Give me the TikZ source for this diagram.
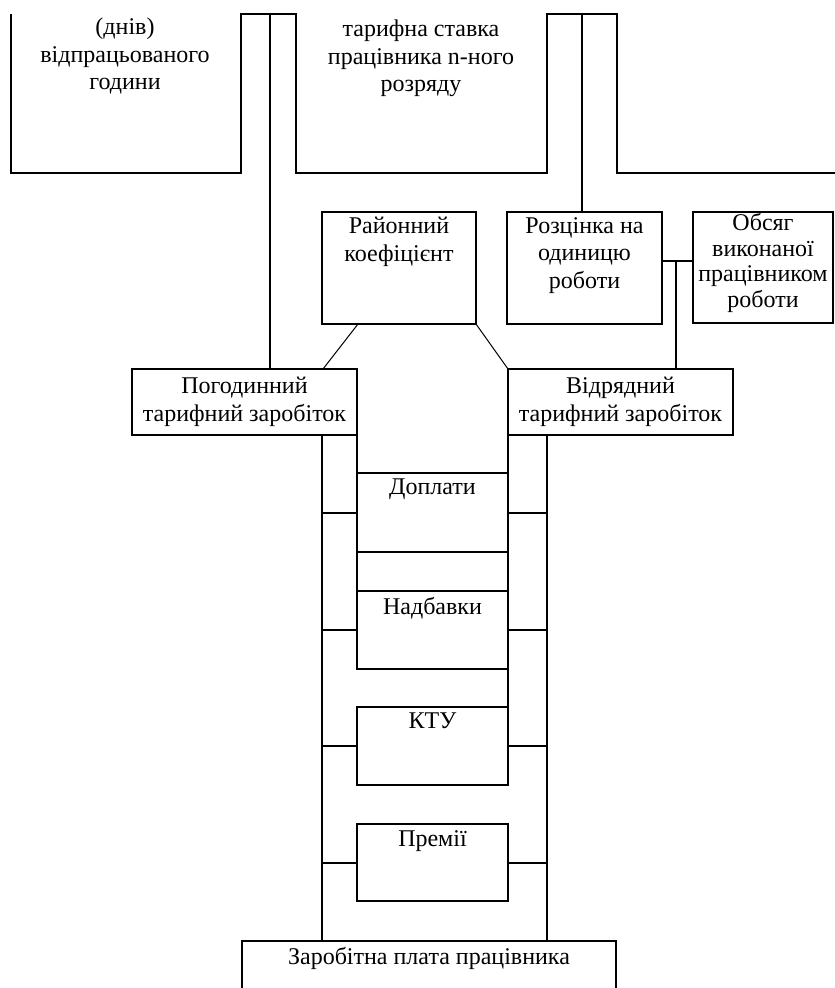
\documentclass[tikz,border=0pt]{standalone}
\usepackage{fontspec}
\setmainfont{Liberation Serif}
\usetikzlibrary{calc}
\begin{document}
\begin{tikzpicture}[x=1pt,y=-1pt,
  box/.style={draw, line width=2pt, anchor=north west, inner sep=0pt, outer sep=0pt},
  txt/.style={font=\fontsize{24}{27.5}\selectfont, align=center, inner sep=0pt},
  ctxt/.style={box, font=\fontsize{24}{28}\selectfont, align=center},
  ln/.style={line width=2pt},
  thinln/.style={line width=1pt}]
\useasboundingbox (0,0) rectangle (835,988);

% partially shown top boxes
\draw[ln] (11,14) -- (11,173) -- (241,173) -- (241,14) -- (296,14) -- (296,173)
  -- (547,173) -- (547,14) -- (617,14) -- (617,173) -- (836,173);
\coordinate (tA) at (270,14);
\coordinate (tB) at (582,14);
\node[txt, anchor=north] (hours) at (125,18) {(днів)\\відпрацьованого\\години};
\node[txt, anchor=north] (rate) at (421,20) {тарифна ставка\\працівника n-ного\\розряду};

% boxes
\node[box, minimum width=154pt, minimum height=112pt,
  label={[txt,anchor=north,yshift=-5pt]north:Районний\\коефіцієнт}] (rk) at (322,212) {};
\node[box, minimum width=155pt, minimum height=112pt,
  label={[txt,anchor=north,yshift=-5pt]north:Розцінка на\\одиницю\\роботи}] (rz) at (507,212) {};
\node[box, minimum width=140pt, minimum height=111pt,
  label={[txt,font=\fontsize{24}{25.7}\selectfont,anchor=north,yshift=-1pt]north:Обсяг\\виконаної\\працівником\\роботи}] (ob) at (693,212) {};
\node[ctxt, minimum width=225pt, minimum height=66pt] (pg) at (132,369) {Погодинний\\тарифний заробіток};
\node[ctxt, minimum width=225pt, minimum height=66pt] (vd) at (508,369) {Відрядний\\тарифний заробіток};
\node[box, minimum width=151pt, minimum height=79pt,
  label={[txt,anchor=north,yshift=-6pt]north:Доплати}] (dp) at (357,473) {};
\node[box, minimum width=151pt, minimum height=78pt,
  label={[txt,anchor=north,yshift=-6pt]north:Надбавки}] (nb) at (357,591) {};
\node[box, minimum width=151pt, minimum height=78pt,
  label={[txt,anchor=north,yshift=-6pt]north:КТУ}] (kt) at (357,707) {};
\node[box, minimum width=151pt, minimum height=77pt,
  label={[txt,anchor=north,yshift=-6pt]north:Премії}] (pr) at (357,824) {};
\node[box, minimum width=374pt, minimum height=70pt,
  label={[txt,anchor=north,yshift=-6pt]north:Заробітна плата працівника}] (zp) at (242,941) {};

% connectors from top
\draw[ln] (tA) -- (tA |- pg.north);
\draw[ln] (tB) -- (tB |- rz.north);

% district coefficient diagonals
\draw[thinln] ([xshift=36pt]rk.south west) -- ([xshift=-34pt]pg.north east);
\draw[thinln] (rk.south east) -- (vd.north west);

% piece rate and volume
\coordinate (ra) at ([yshift=7pt]rz.east);
\coordinate (mj) at (676,0 |- ra);
\draw[ln] (ra) -- (ra -| ob.west);
\draw[ln] (mj) -- (mj |- vd.north);

% buses
\coordinate (lb) at (322,435);
\coordinate (rb) at (547,435);
\draw[ln] (lb) -- (lb |- zp.north);
\draw[ln] (rb) -- (rb |- zp.north);

% inner columns
\draw[ln] (pg.south east) -- (dp.north west);
\draw[ln] (dp.south west) -- (nb.north west);
\draw[ln] (vd.south west) -- (dp.north east);
\draw[ln] (dp.south east) -- (nb.north east);
\draw[ln] (nb.south east) -- (kt.north east);

% horizontal taps
\foreach \b in {dp,nb,kt,pr}{
  \draw[ln] (\b.west) -- (\b.west -| lb);
  \draw[ln] (\b.east) -- (\b.east -| rb);
}
\end{tikzpicture}
\end{document}
